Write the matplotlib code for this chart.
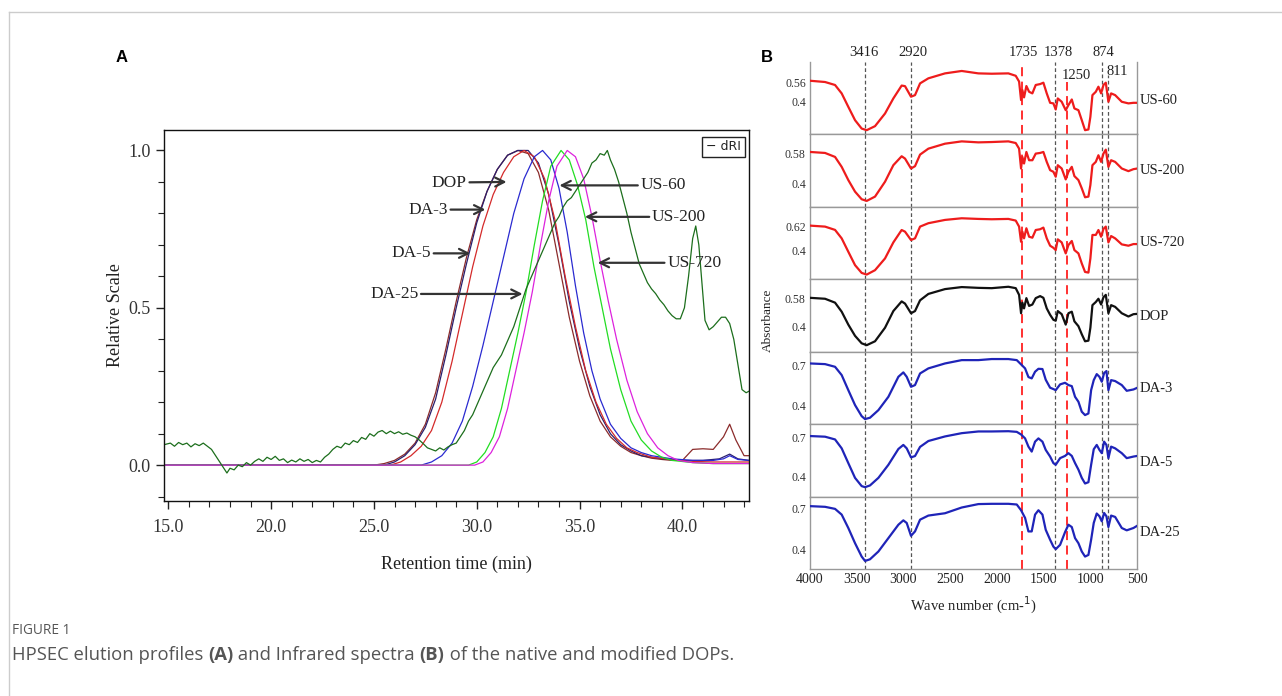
import numpy as np
import matplotlib.pyplot as plt
from matplotlib.lines import Line2D
from matplotlib.ticker import MultipleLocator, FixedLocator

plt.rcParams['font.family'] = ['Liberation Serif', 'DejaVu Serif']

W, H = 1282, 696

# ---------------- Panel A data: HPSEC elution profiles ----------------
t_da5 = [14.8, 25.0, 25.5, 26.0, 26.5, 27.0, 27.5, 28.0, 28.5, 29.0, 29.5, 30.0, 30.5, 31.0, 31.5,
         32.0, 32.5, 33.0, 33.5, 34.0, 34.5, 35.0, 35.5, 36.0, 36.5, 37.0, 37.5, 38.0, 38.5, 39.0,
         39.5, 40.0, 40.5, 41.0, 41.5, 42.0, 42.3, 42.6, 43.0, 43.24]
v_da5 = [0.0, 0.0, 0.005, 0.015, 0.035, 0.07, 0.13, 0.23, 0.37, 0.52, 0.66, 0.78, 0.87, 0.94, 0.985,
         1.0, 0.99, 0.93, 0.81, 0.64, 0.47, 0.33, 0.22, 0.14, 0.09, 0.06, 0.04, 0.03, 0.022, 0.018,
         0.015, 0.015, 0.05, 0.052, 0.05, 0.09, 0.13, 0.08, 0.03, 0.03]

t_da3 = [14.8, 25.5, 26.0, 26.5, 27.0, 27.5, 28.0, 28.5, 29.0, 29.5, 30.0, 30.5, 31.0, 31.5, 32.0,
         32.5, 33.0, 33.5, 34.0, 34.5, 35.0, 35.5, 36.0, 36.5, 37.0, 37.5, 38.0, 39.0, 40.0, 41.0,
         41.8, 42.3, 42.7, 43.24]
v_da3 = [0.0, 0.0, 0.01, 0.03, 0.065, 0.12, 0.21, 0.35, 0.50, 0.64, 0.77, 0.87, 0.94, 0.985, 1.0,
         1.0, 0.96, 0.86, 0.70, 0.52, 0.37, 0.25, 0.16, 0.10, 0.065, 0.045, 0.03, 0.02, 0.015, 0.015,
         0.02, 0.035, 0.02, 0.015]

t_dop = [14.8, 25.8, 26.3, 26.8, 27.3, 27.8, 28.3, 28.8, 29.3, 29.8, 30.3, 30.8, 31.3, 31.8, 32.3,
         32.8, 33.3, 33.8, 34.3, 34.8, 35.3, 35.8, 36.3, 36.8, 37.3, 37.8, 38.5, 39.5, 40.5, 41.5, 43.24]
v_dop = [0.0, 0.0, 0.01, 0.03, 0.06, 0.11, 0.20, 0.33, 0.48, 0.63, 0.76, 0.86, 0.93, 0.98, 1.0,
         0.98, 0.91, 0.78, 0.60, 0.44, 0.30, 0.20, 0.13, 0.085, 0.055, 0.04, 0.025, 0.018, 0.012, 0.01, 0.01]

t_us60 = [14.8, 27.3, 27.8, 28.3, 28.8, 29.3, 29.8, 30.3, 30.8, 31.3, 31.8, 32.3, 32.8, 33.2, 33.6,
          34.0, 34.4, 34.8, 35.2, 35.6, 36.0, 36.5, 37.0, 37.5, 38.0, 38.5, 39.5, 40.5, 41.5, 42.0,
          42.3, 42.7, 43.24]
v_us60 = [0.0, 0.0, 0.01, 0.03, 0.07, 0.14, 0.25, 0.38, 0.52, 0.66, 0.80, 0.91, 0.98, 1.0, 0.97,
          0.88, 0.74, 0.57, 0.42, 0.30, 0.21, 0.13, 0.085, 0.055, 0.04, 0.03, 0.02, 0.015, 0.015, 0.02,
          0.03, 0.018, 0.015]

t_us200 = [14.8, 29.6, 30.0, 30.4, 30.8, 31.2, 31.6, 32.0, 32.4, 32.8, 33.2, 33.6, 34.1, 34.5, 34.9,
           35.3, 35.7, 36.1, 36.5, 37.0, 37.5, 38.0, 38.5, 39.0, 39.5, 40.5, 41.5, 43.24]
v_us200 = [0.0, 0.0, 0.01, 0.04, 0.09, 0.18, 0.30, 0.42, 0.55, 0.70, 0.84, 0.95, 1.0, 0.97, 0.89,
           0.78, 0.63, 0.50, 0.37, 0.24, 0.14, 0.08, 0.045, 0.025, 0.015, 0.008, 0.005, 0.005]

t_us720 = [14.8, 29.9, 30.3, 30.7, 31.1, 31.5, 31.9, 32.3, 32.7, 33.1, 33.5, 33.9, 34.4, 34.8, 35.2,
           35.6, 36.0, 36.4, 36.8, 37.3, 37.8, 38.3, 38.8, 39.3, 39.8, 40.5, 41.5, 43.24]
v_us720 = [0.0, 0.0, 0.01, 0.04, 0.09, 0.18, 0.30, 0.42, 0.55, 0.70, 0.84, 0.95, 1.0, 0.98, 0.91,
           0.79, 0.65, 0.52, 0.40, 0.27, 0.17, 0.10, 0.055, 0.03, 0.015, 0.008, 0.005, 0.005]

t_da25 = [14.8, 15.1, 15.3, 15.5, 15.7, 15.9, 16.1, 16.3, 16.5, 16.7, 16.9, 17.1, 17.3, 17.5, 17.7,
          17.85, 18.0, 18.2, 18.4, 18.6, 18.8, 19.0, 19.2, 19.4, 19.6, 19.8, 20.0, 20.2, 20.4, 20.6,
          20.8, 21.0, 21.2, 21.4, 21.6, 21.8, 22.0, 22.2, 22.4, 22.6, 22.8, 23.0, 23.2, 23.4, 23.6,
          23.8, 24.0, 24.2, 24.4, 24.6, 24.8, 25.0, 25.2, 25.4, 25.6, 25.8, 26.0, 26.2, 26.4, 26.6,
          26.8, 27.0, 27.2, 27.4, 27.6, 27.8, 28.0, 28.2, 28.4, 28.6, 28.8, 29.0, 29.2, 29.4, 29.6,
          29.8, 30.0, 30.2, 30.4, 30.6, 30.8, 31.0, 31.2, 31.4, 31.6, 31.8, 32.0, 32.2, 32.4, 32.6,
          32.8, 33.0, 33.2, 33.4, 33.6, 33.8, 34.0, 34.2, 34.4, 34.6, 34.8, 35.0, 35.2, 35.4, 35.6,
          35.8, 36.0, 36.2, 36.35, 36.5, 36.7, 36.9, 37.1, 37.3, 37.5, 37.7, 37.9, 38.1, 38.3, 38.5,
          38.7, 38.9, 39.1, 39.3, 39.5, 39.7, 39.9, 40.1, 40.3, 40.5, 40.65, 40.8, 40.95, 41.1, 41.3,
          41.5, 41.7, 41.9, 42.1, 42.3, 42.5, 42.7, 42.9, 43.1, 43.24]
v_da25 = [0.065, 0.07, 0.06, 0.072, 0.065, 0.07, 0.058, 0.068, 0.062, 0.07, 0.06, 0.05, 0.03, 0.01, -0.01,
          -0.025, -0.01, -0.015, 0.0, -0.005, 0.008, 0.0, 0.012, 0.02, 0.012, 0.025, 0.018, 0.028, 0.015, 0.02,
          0.008, 0.016, 0.01, 0.02, 0.012, 0.018, 0.008, 0.015, 0.01, 0.025, 0.035, 0.05, 0.06, 0.055, 0.07,
          0.065, 0.078, 0.072, 0.088, 0.082, 0.10, 0.092, 0.105, 0.11, 0.10, 0.108, 0.10, 0.106, 0.098, 0.102,
          0.095, 0.09, 0.08, 0.068, 0.055, 0.05, 0.045, 0.055, 0.048, 0.058, 0.065, 0.07, 0.09, 0.11, 0.14,
          0.16, 0.19, 0.22, 0.25, 0.28, 0.31, 0.33, 0.35, 0.38, 0.41, 0.44, 0.48, 0.52, 0.56, 0.59,
          0.62, 0.65, 0.68, 0.71, 0.74, 0.77, 0.79, 0.82, 0.84, 0.85, 0.87, 0.89, 0.91, 0.93, 0.96,
          0.97, 0.99, 0.985, 1.0, 0.97, 0.94, 0.90, 0.85, 0.80, 0.74, 0.69, 0.64, 0.61, 0.58, 0.56,
          0.545, 0.525, 0.51, 0.49, 0.475, 0.465, 0.465, 0.50, 0.60, 0.72, 0.76, 0.70, 0.58, 0.46, 0.43,
          0.44, 0.455, 0.47, 0.47, 0.45, 0.40, 0.32, 0.24, 0.23, 0.235]

hpsec = [
    (t_da5, v_da5, '#8b2b2b'),
    (t_da3, v_da3, '#2a1f6e'),
    (t_dop, v_dop, '#d42a2a'),
    (t_us60, v_us60, '#2a2ad0'),
    (t_us200, v_us200, '#22dd22'),
    (t_us720, v_us720, '#dd22dd'),
    (t_da25, v_da25, '#1c6e1c'),
]

# arrow labels: name, text position, arrow tip
arrow_names = ['DOP', 'DA-3', 'DA-5', 'DA-25', 'US-60', 'US-200', 'US-720']
arrow_text = [(28.66, 0.898), (27.63, 0.812), (26.81, 0.673), (25.98, 0.544),
              (39.07, 0.889), (39.84, 0.789), (40.58, 0.643)]
arrow_tip = [(31.45, 0.90), (30.42, 0.812), (29.69, 0.673), (32.23, 0.544),
             (34.02, 0.889), (35.26, 0.789), (35.88, 0.643)]

# ---------------- Panel B data: FT-IR spectra ----------------
wave_red = [4000, 3839, 3732, 3661, 3590, 3518, 3447, 3393, 3304, 3197, 3108, 3019, 2983, 2919, 2876,
            2822, 2733, 2555, 2376, 2198, 2055, 1877, 1798, 1762, 1741, 1727, 1709, 1684, 1655, 1620,
            1584, 1537, 1502, 1466, 1430, 1395, 1370, 1348, 1306, 1263, 1234, 1198, 1170, 1127, 1091,
            1056, 1020, 999, 977, 941, 913, 884, 859, 834, 806, 777, 734, 663, 592, 538, 496]
ir_us60 = [0.577, 0.566, 0.54, 0.467, 0.35, 0.234, 0.161, 0.147, 0.182, 0.292, 0.423, 0.535, 0.53, 0.438, 0.452,
           0.554, 0.598, 0.641, 0.662, 0.641, 0.638, 0.641, 0.62, 0.57, 0.409, 0.496, 0.432, 0.531, 0.481, 0.467,
           0.54, 0.548, 0.56, 0.467, 0.385, 0.38, 0.327, 0.423, 0.394, 0.321, 0.365, 0.414, 0.336, 0.321, 0.234,
           0.147, 0.153, 0.263, 0.452, 0.481, 0.525, 0.467, 0.54, 0.56, 0.394, 0.467, 0.452, 0.394, 0.38, 0.385, 0.385]
ir_us200 = [0.59, 0.584, 0.56, 0.50, 0.42, 0.35, 0.304, 0.294, 0.32, 0.41, 0.51, 0.564, 0.55, 0.49, 0.504,
            0.574, 0.61, 0.64, 0.654, 0.648, 0.65, 0.654, 0.644, 0.61, 0.49, 0.56, 0.52, 0.59, 0.54, 0.54,
            0.58, 0.584, 0.59, 0.53, 0.48, 0.47, 0.44, 0.51, 0.49, 0.424, 0.47, 0.50, 0.444, 0.42, 0.37,
            0.316, 0.32, 0.39, 0.51, 0.53, 0.57, 0.53, 0.58, 0.604, 0.50, 0.54, 0.53, 0.49, 0.474, 0.486, 0.49]
ir_us720 = [0.629, 0.62, 0.59, 0.513, 0.391, 0.269, 0.198, 0.183, 0.223, 0.33, 0.476, 0.589, 0.574, 0.498, 0.513,
            0.62, 0.651, 0.681, 0.696, 0.69, 0.687, 0.69, 0.675, 0.62, 0.482, 0.574, 0.513, 0.605, 0.528, 0.519,
            0.589, 0.596, 0.611, 0.513, 0.446, 0.427, 0.406, 0.504, 0.476, 0.376, 0.452, 0.489, 0.406, 0.376, 0.284,
            0.207, 0.201, 0.33, 0.544, 0.544, 0.589, 0.528, 0.599, 0.62, 0.476, 0.534, 0.513, 0.458, 0.446, 0.461, 0.461]
ir_dop = [0.586, 0.58, 0.555, 0.497, 0.414, 0.342, 0.294, 0.282, 0.307, 0.394, 0.501, 0.563, 0.549, 0.487, 0.501,
          0.57, 0.611, 0.642, 0.655, 0.65, 0.648, 0.657, 0.648, 0.605, 0.487, 0.555, 0.518, 0.584, 0.534, 0.543,
          0.584, 0.597, 0.586, 0.518, 0.477, 0.445, 0.439, 0.501, 0.481, 0.414, 0.487, 0.497, 0.435, 0.404, 0.352,
          0.307, 0.311, 0.394, 0.539, 0.559, 0.58, 0.543, 0.59, 0.605, 0.487, 0.539, 0.528, 0.487, 0.466, 0.481, 0.483]

wave_blue = [4000, 3839, 3732, 3661, 3590, 3518, 3447, 3411, 3358, 3268, 3161, 3054, 3001, 2965, 2919,
             2876, 2822, 2733, 2555, 2376, 2198, 2055, 1877, 1787, 1741, 1698, 1662, 1627, 1591, 1555,
             1512, 1477, 1430, 1395, 1370, 1323, 1270, 1234, 1198, 1163, 1127, 1091, 1056, 1020, 991,
             963, 931, 902, 877, 852, 827, 806, 777, 734, 663, 610, 538, 496]
ir_da3 = [0.712, 0.707, 0.687, 0.625, 0.512, 0.40, 0.317, 0.295, 0.305, 0.362, 0.462, 0.612, 0.645, 0.612, 0.537,
          0.55, 0.637, 0.675, 0.712, 0.737, 0.737, 0.745, 0.745, 0.737, 0.705, 0.675, 0.61, 0.60, 0.65, 0.672,
          0.67, 0.59, 0.53, 0.52, 0.512, 0.555, 0.567, 0.55, 0.542, 0.462, 0.425, 0.35, 0.325, 0.337, 0.512,
          0.587, 0.632, 0.612, 0.575, 0.64, 0.655, 0.512, 0.587, 0.58, 0.55, 0.507, 0.517, 0.53]
ir_da5 = [0.713, 0.708, 0.687, 0.619, 0.506, 0.393, 0.33, 0.322, 0.335, 0.393, 0.493, 0.614, 0.645, 0.619, 0.55,
          0.56, 0.63, 0.675, 0.71, 0.735, 0.748, 0.748, 0.75, 0.745, 0.725, 0.695, 0.632, 0.594, 0.67, 0.695,
          0.67, 0.607, 0.556, 0.506, 0.493, 0.544, 0.561, 0.582, 0.561, 0.506, 0.456, 0.393, 0.35, 0.36, 0.493,
          0.612, 0.645, 0.607, 0.582, 0.67, 0.645, 0.544, 0.632, 0.619, 0.582, 0.544, 0.556, 0.561]
ir_da25 = [0.72, 0.715, 0.70, 0.658, 0.56, 0.449, 0.351, 0.319, 0.331, 0.388, 0.486, 0.584, 0.616, 0.597, 0.503,
           0.535, 0.621, 0.651, 0.668, 0.71, 0.735, 0.737, 0.737, 0.732, 0.69, 0.634, 0.535, 0.535, 0.658, 0.69,
           0.658, 0.547, 0.474, 0.424, 0.405, 0.437, 0.53, 0.584, 0.567, 0.486, 0.449, 0.388, 0.351, 0.363, 0.474,
           0.597, 0.666, 0.646, 0.609, 0.67, 0.646, 0.567, 0.651, 0.641, 0.56, 0.543, 0.56, 0.577]

ir_names = ['US-60', 'US-200', 'US-720', 'DOP', 'DA-3', 'DA-5', 'DA-25']
ir_rows = [(wave_red, ir_us60, '#ee1c1c'), (wave_red, ir_us200, '#ee1c1c'), (wave_red, ir_us720, '#ee1c1c'),
           (wave_red, ir_dop, '#111111'), (wave_blue, ir_da3, '#1f24b8'), (wave_blue, ir_da5, '#1f24b8'),
           (wave_blue, ir_da25, '#1f24b8')]
ir_ylims = [(0.11, 0.74), (0.258, 0.696), (0.14, 0.80), (0.24, 0.705), (0.257, 0.80), (0.25, 0.804), (0.26, 0.79)]
ir_toptick = [0.56, 0.58, 0.62, 0.58, 0.7, 0.7, 0.7]
ir_label_y = [100, 170, 243, 316, 389, 462, 533]

peaks_gray = [3416, 2920, 1378, 874, 811]
peaks_red = [1735, 1250]
peak_labels = [('3416', 3422, 1.125), ('2920', 2900, 1.125), ('1735', 1720, 1.125), ('1378', 1345, 1.125),
               ('874', 863, 1.125), ('1250', 1145, 0.81), ('811', 713, 0.87)]

fig = plt.figure(figsize=(W / 100, H / 100), dpi=100)


def box(l, t, r, b):
    return [l / W, 1 - b / H, (r - l) / W, (b - t) / H]


# card border
fig.add_artist(Line2D([9 / W, 1], [1 - 12 / H, 1 - 12 / H], color='#cccccc', lw=1))
fig.add_artist(Line2D([9 / W, 9 / W], [0, 1 - 12 / H], color='#cccccc', lw=1))

# ---------------- Panel A ----------------
ax = fig.add_axes(box(164, 130, 749, 501))
for t, v, c in hpsec:
    ax.plot(t, v, color=c, lw=0.9)
ax.set_xlim(14.79, 43.24)
ax.set_ylim(-0.114, 1.065)
ax.xaxis.set_major_locator(FixedLocator([15, 20, 25, 30, 35, 40]))
ax.xaxis.set_minor_locator(MultipleLocator(1))
ax.yaxis.set_major_locator(FixedLocator([0, 0.5, 1.0]))
ax.yaxis.set_minor_locator(MultipleLocator(0.1))
ax.set_xticklabels(['15.0', '20.0', '25.0', '30.0', '35.0', '40.0'])
ax.set_yticklabels(['0.0', '0.5', '1.0'])
ax.tick_params(which='both', direction='out', color='#222222', labelsize=13, labelcolor='#333333')
ax.tick_params(which='major', length=6, width=1)
ax.tick_params(which='minor', length=4, width=0.8)
ax.tick_params(axis='x', pad=7)
for s in ax.spines.values():
    s.set_color('#111111')
    s.set_linewidth(1)
ax.set_xlabel('Retention time (min)', fontsize=13, color='#222222', labelpad=14)
ax.set_ylabel('Relative Scale', fontsize=13, color='#222222', labelpad=3)
ax.text(0.986, 0.972, '\u2212 dRI', transform=ax.transAxes, ha='right', va='top', fontsize=9,
        family='DejaVu Sans', color='#222222',
        bbox=dict(boxstyle='square,pad=0.3', fc='white', ec='#222222', lw=1))
for name, tp, tip in zip(arrow_names, arrow_text, arrow_tip):
    ax.annotate(name, xy=tip, xytext=tp, ha='center', va='center', fontsize=12.5, color='#222222',
                arrowprops=dict(arrowstyle='->', color='#333333', lw=1.6, mutation_scale=16,
                                shrinkA=0, shrinkB=0))

fig.text(122 / W, 1 - 57 / H, 'A', fontsize=12, fontweight='bold', family='Liberation Sans',
         ha='center', va='center')
fig.text(767 / W, 1 - 57 / H, 'B', fontsize=12, fontweight='bold', family='Liberation Sans',
         ha='center', va='center')

# ---------------- Panel B ----------------
top, row_h = 62, (569 - 62) / 7
axes_b = []
for i, ((w, v, c), name) in enumerate(zip(ir_rows, ir_names)):
    axb = fig.add_axes(box(810, top + i * row_h, 1137, top + (i + 1) * row_h))
    axes_b.append(axb)
    axb.plot(w, v, color=c, lw=1.6, zorder=3)
    axb.set_xlim(4000, 500)
    axb.set_ylim(*ir_ylims[i])
    axb.set_yticks([0.4, ir_toptick[i]])
    axb.set_yticklabels(['0.4', f'{ir_toptick[i]:g}'])
    axb.tick_params(axis='y', length=0, pad=3, labelsize=8.5, labelcolor='#333333')
    for s in axb.spines.values():
        s.set_color('#999999')
        s.set_linewidth(1)
    if i == 0:
        axb.spines['top'].set_visible(False)
    if i < 6:
        axb.set_xticks([])
    else:
        axb.set_xticks([4000, 3500, 3000, 2500, 2000, 1500, 1000, 500])
        axb.tick_params(axis='x', length=0, pad=3, labelsize=10, labelcolor='#222222')
        axb.set_xlabel('Wave number (cm-$^{1}$)', fontsize=10.5, color='#222222', labelpad=6)
    for p in peaks_gray:
        ymax = 0.82 if (i == 0 and p == 811) else 1
        axb.axvline(p, ymax=ymax, color='#555555', lw=0.9, ls=(0, (3, 2)), zorder=2)
    for p in peaks_red:
        ymax = 0.72 if (i == 0 and p == 1250) else 1
        axb.axvline(p, ymax=ymax, color='#ff2020', lw=1.3, ls=(0, (5, 3)), zorder=2)
    fig.text(1140 / W, 1 - ir_label_y[i] / H, name, fontsize=10.5, color='#222222', ha='left', va='center')

for txt, xw, yf in peak_labels:
    axes_b[0].text(xw, yf, txt, transform=axes_b[0].get_xaxis_transform(), ha='center', va='center',
                   fontsize=10.5, color='#222222')

fig.text(768 / W, 1 - 320 / H, 'Absorbance', rotation=90, fontsize=9.5, color='#222222',
         ha='center', va='center')

# ---------------- caption ----------------
renderer = fig.canvas.get_renderer()
fig.text(12 / W, 1 - 630 / H, 'FIGURE 1', fontsize=9.8, family='Open Sans', color='#555555',
         ha='left', va='center')


def run_width(s, weight, size):
    a = fig.text(0, 0, 'x' + s + 'x', fontsize=size, fontweight=weight, family='Open Sans')
    b = fig.text(0, 0, 'xx', fontsize=size, fontweight=weight, family='Open Sans')
    wdt = a.get_window_extent(renderer).width - b.get_window_extent(renderer).width
    a.remove()
    b.remove()
    return wdt


cap_size = 13.3
runs = [('HPSEC elution profiles ', 'normal'), ('(A)', 'bold'), (' and Infrared spectra ', 'normal'),
        ('(B)', 'bold'), (' of the native and modified DOPs.', 'normal')]
xpos = 12
for s, wt in runs:
    fig.text(xpos / W, 1 - 655 / H, s, fontsize=cap_size, fontweight=wt, family='Open Sans',
             color='#555555', ha='left', va='center')
    xpos += run_width(s, wt, cap_size)

fig.savefig('out.png', dpi=100)
